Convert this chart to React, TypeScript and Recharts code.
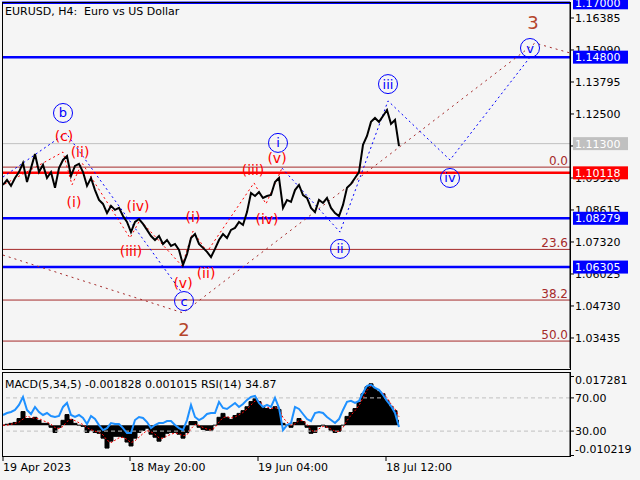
import React from "react";
import {
  ComposedChart,
  Line,
  Area,
  Scatter,
  XAxis,
  YAxis,
  ReferenceLine,
} from "recharts";

const FONT = "'DejaVu Sans', Verdana, sans-serif";
const BG = "#f5f5f5";

// EURUSD H4, one close every 4 bars
const closes = [
  1.0963, 1.0983, 1.0959, 1.0991, 1.1015, 1.1052, 1.0975, 1.1031, 1.1088, 1.1015,
  1.1044, 1.0991, 1.1015, 1.0951, 1.1031, 1.1064, 1.108, 1.0999, 1.104, 1.1048,
  1.1015, 1.0959, 1.0991, 1.0942, 1.0902, 1.0886, 1.0849, 1.0878, 1.0862, 1.087,
  1.0837, 1.0813, 1.0772, 1.0813, 1.0825, 1.0805, 1.0781, 1.0756, 1.074, 1.0756,
  1.0724, 1.074, 1.0716, 1.0724, 1.07, 1.0639, 1.0683, 1.0748, 1.0764, 1.0724,
  1.0708, 1.0692, 1.0671, 1.0704, 1.074, 1.0764, 1.0748, 1.0781, 1.0789, 1.0813,
  1.0801, 1.0853, 1.093, 1.0918, 1.0934, 1.091, 1.0918, 1.0922, 1.0975, 1.0991,
  1.087, 1.0902, 1.0894, 1.0942, 1.0963, 1.0922, 1.091, 1.087, 1.0853, 1.0902,
  1.089, 1.091, 1.087, 1.0849, 1.0837, 1.0882, 1.0951, 1.0967, 1.0991, 1.1015,
  1.1125, 1.1161, 1.1218, 1.1234, 1.1218, 1.1242, 1.1266, 1.121, 1.1226, 1.112,
];

const rsi14 = [
  49.4, 51.8, 53.0, 55.5, 61.5, 71.2, 55.5, 50.6, 59.1, 53.0,
  49.4, 51.8, 48.2, 47.0, 48.2, 59.1, 63.9, 49.4, 47.0, 49.4,
  45.8, 38.5, 48.2, 44.5, 37.3, 31.2, 33.6, 39.7, 38.5, 38.5,
  33.6, 27.6, 27.6, 43.3, 47.0, 45.8, 40.9, 33.6, 37.3, 39.7,
  39.7, 42.1, 42.1, 37.3, 33.6, 31.2, 43.3, 61.5, 47.0, 43.3,
  45.8, 50.6, 51.8, 51.8, 65.2, 57.9, 56.7, 60.3, 63.9, 59.1,
  62.7, 67.6, 71.2, 72.4, 63.9, 59.1, 61.5, 59.1, 70.0, 57.9,
  31.2, 37.3, 39.7, 59.1, 56.7, 50.6, 44.5, 42.1, 51.8, 53.0,
  51.8, 47.0, 43.3, 39.7, 44.5, 55.5, 65.2, 66.4, 63.9, 66.4,
  76.1, 84.5, 85.8, 82.1, 79.7, 73.6, 66.4, 60.3, 51.8, 34.9,
];

const macdMain = [
  0.0, 0.0003, 0.0006, 0.0009, 0.0022, 0.0045, 0.0022, 0.0022, 0.0026, 0.0016,
  0.0006, 0.0006, -0.0007, -0.0024, -0.0007, 0.0016, 0.0035, 0.0019, 0.0006, 0.0,
  -0.0004, -0.0024, -0.0017, -0.0024, -0.0027, -0.0043, -0.0076, -0.0053, -0.0037, -0.0037,
  -0.004, -0.0056, -0.0069, -0.0043, -0.0024, -0.0017, -0.001, -0.003, -0.004, -0.0053,
  -0.004, -0.0027, -0.0024, -0.0024, -0.003, -0.0043, -0.0024, 0.0012, 0.0012, -0.0007,
  -0.0014, -0.0017, -0.0017, 0.0, 0.0026, 0.0039, 0.0026, 0.0019, 0.0032, 0.0039,
  0.0048, 0.0061, 0.0078, 0.0088, 0.0078, 0.0058, 0.0055, 0.0052, 0.0061, 0.0052,
  0.0006, 0.0, -0.0007, 0.0009, 0.0022, 0.0012, -0.0007, -0.0027, -0.0024, -0.0004,
  0.0, -0.0007, -0.0017, -0.0024, -0.002, 0.0, 0.0029, 0.0042, 0.0055, 0.0075,
  0.0104, 0.0127, 0.0137, 0.0121, 0.0111, 0.0104, 0.0081, 0.0061, 0.0048, 0.0016,
];

const macdSignal = [
  0.0, 0.0, 0.0003, 0.0006, 0.001, 0.002, 0.003, 0.0025, 0.0023, 0.0022,
  0.0015, 0.001, 0.0003, -0.0008, -0.0012, -0.0004, 0.0012, 0.002, 0.0015, 0.0008,
  0.0002, -0.0008, -0.0015, -0.002, -0.0024, -0.0032, -0.005, -0.0058, -0.005, -0.0042,
  -0.004, -0.0047, -0.0058, -0.0052, -0.004, -0.0028, -0.0018, -0.0022, -0.003, -0.0042,
  -0.0044, -0.0036, -0.003, -0.0026, -0.0028, -0.0035, -0.0032, -0.0012, 0.0002, 0.0,
  -0.0008, -0.0013, -0.0016, -0.0008, 0.001, 0.0025, 0.0028, 0.0024, 0.0027, 0.0034,
  0.0042, 0.0053, 0.0067, 0.008, 0.008, 0.0068, 0.006, 0.0055, 0.0058, 0.0055,
  0.0025, 0.001, 0.0, 0.0004, 0.0015, 0.0015, 0.0003, -0.0017, -0.0022, -0.0012,
  -0.0004, -0.0006, -0.0013, -0.002, -0.0021, -0.0008, 0.0015, 0.0033, 0.0048, 0.0065,
  0.009, 0.0115, 0.013, 0.0125, 0.0115, 0.0107, 0.009, 0.007, 0.0054, 0.0028,
];

const priceTicks = [1.16385, 1.1509, 1.13795, 1.125, 1.11205, 1.0991, 1.08615, 1.0732, 1.06025, 1.0473, 1.03435];
const dateTickBars = [3, 130, 258, 386];
const dateTickLabels = ["19 Apr 2023", "18 May 20:00", "19 Jun 04:00", "18 Jul 12:00"];

const blueLevels = [1.17, 1.148, 1.08279, 1.06305];
const blueLevelText = ["1.17000", "1.14800", "1.08279", "1.06305"];
const redLevel = 1.10118;
const grayLevel = 1.113;
const fibLevels = [1.1035, 1.0702, 1.0497, 1.0331];
const fibText = ["0.0", "23.6", "38.2", "50.0"];

// wave count lines
const brownBars = [3, 183, 535, 570];
const brownPrices = [1.0679, 1.0445, 1.1537, 1.1497];
const blueBarsA = [3, 66, 182];
const bluePricesA = [1.0995, 1.1173, 1.0526];
const blueBarsB = [282, 340, 388, 450, 531];
const bluePricesB = [1.1031, 1.0772, 1.1303, 1.1064, 1.1485];
const redBarsA = [5, 63, 72, 82, 130, 140, 182];
const redPricesA = [1.0967, 1.1096, 1.0963, 1.1052, 1.0748, 1.0821, 1.0635];
const redBarsB = [182, 193, 207, 254, 266, 282];
const redPricesB = [1.0635, 1.0776, 1.0692, 1.0971, 1.0886, 1.1031];

// wave labels
const blueLabelText = ["b", "c", "i", "ii", "iii", "iv", "v"];
const blueLabelBars = [63, 184, 278, 340, 388, 450, 530];
const blueLabelPrices = [1.1254, 1.0493, 1.1133, 1.0704, 1.1371, 1.0991, 1.1517];
const redLabelText = ["(c)", "(ii)", "(i)", "(iv)", "(iii)", "(v)", "(i)", "(ii)", "(iii)", "(iv)", "(v)"];
const redLabelBars = [64, 80, 74, 138, 131, 183, 193, 206, 253, 267, 277];
const redLabelPrices = [1.1161, 1.1096, 1.0894, 1.0878, 1.0696, 1.0566, 1.0833, 1.0607, 1.1023, 1.0825, 1.1072];
const brownLabelText = ["3", "2"];
const brownLabelBars = [533, 184];
const brownLabelPrices = [1.1618, 1.0376];

const bars = closes.map((_, i) => 3 + i * 4);
const priceData = closes.map((p, i) => ({ x: bars[i], y: p }));
const oscData = bars.map((x, i) => ({ x, rsi: rsi14[i], macd: macdMain[i], sig: macdSignal[i] }));

const pts = (xs: number[], ys: number[]) => xs.map((x, i) => ({ x, y: ys[i] }));
const lbls = (xs: number[], ys: number[], ts: string[]) => xs.map((x, i) => ({ x, y: ys[i], t: ts[i] }));

const PRICE_DOMAIN: [number, number] = [1.0222, 1.17032];
const MAIN_MARGIN = { top: 2, right: 0, bottom: 2, left: 2 };

const tag = (text: string, bg: string) => (props: any) => {
  const vb = props.viewBox;
  const x = vb.x + vb.width + 3;
  return (
    <g>
      <rect x={x} y={vb.y - 6.5} width={55} height={13} fill={bg} />
      <text x={x + 2} y={vb.y + 4} fontSize={11} fill="#fff" fontFamily={FONT}>
        {text}
      </text>
    </g>
  );
};

const fibTag = (text: string) => (props: any) => {
  const vb = props.viewBox;
  return (
    <text x={vb.x + vb.width - 2} y={vb.y - 2} textAnchor="end" fontSize={12} fill="#a52a2a" fontFamily={FONT}>
      {text}
    </text>
  );
};

const CircleLabel = (props: any) => {
  const { cx, cy, payload } = props;
  return (
    <g>
      <circle cx={cx} cy={cy} r={9.5} fill="none" stroke="#0000ff" />
      <text x={cx} y={cy + 4.5} textAnchor="middle" fontSize={13} fill="#0000ff" fontFamily={FONT}>
        {payload.t}
      </text>
    </g>
  );
};

const RedLabel = (props: any) => {
  const { cx, cy, payload } = props;
  return (
    <text x={cx} y={cy + 5} textAnchor="middle" fontSize={14} fill="#ff0000" fontFamily={FONT}>
      {payload.t}
    </text>
  );
};

const BrownLabel = (props: any) => {
  const { cx, cy, payload } = props;
  return (
    <text x={cx} y={cy + 6} textAnchor="middle" fontSize={18} fill="#b5442a" fontFamily={FONT}>
      {payload.t}
    </text>
  );
};

const DateTick = (props: any) => {
  const { x, y, payload } = props;
  const i = dateTickBars.indexOf(payload.value);
  return (
    <text x={x} y={y + 8} textAnchor="start" fontSize={11} fill="#000" fontFamily={FONT}>
      {dateTickLabels[i]}
    </text>
  );
};

const axisTick = { fontSize: 11, fill: "#000", fontFamily: FONT };

const abs = (left: number, top: number, extra: React.CSSProperties = {}): React.CSSProperties => ({
  position: "absolute",
  left,
  top,
  ...extra,
});

export default function App() {
  return (
    <div style={{ position: "absolute", left: 0, top: 0, width: 640, height: 480, background: BG, overflow: "hidden", fontFamily: FONT }}>
      <div style={abs(0, 0)}>
        <ComposedChart width={640} height={370} margin={MAIN_MARGIN}>
          <XAxis type="number" dataKey="x" domain={[2, 570]} hide allowDataOverflow />
          <YAxis
            orientation="right"
            width={70}
            domain={PRICE_DOMAIN}
            ticks={priceTicks}
            tickFormatter={(v: number) => v.toFixed(5)}
            tick={axisTick}
            tickSize={4}
            tickMargin={1}
            axisLine={{ stroke: "#000" }}
            tickLine={{ stroke: "#000" }}
            allowDataOverflow
          />
          {fibLevels.map((v, i) => (
            <ReferenceLine key={"f" + i} y={v} stroke="#a52a2a" strokeWidth={1} label={fibTag(fibText[i])} />
          ))}
          <ReferenceLine y={grayLevel} stroke="#c0c0c0" strokeWidth={1} />
          <ReferenceLine y={redLevel} stroke="#ff0000" strokeWidth={2.5} />
          {blueLevels.map((v, i) => (
            <ReferenceLine key={"b" + i} y={v} stroke="#0000ff" strokeWidth={2.5} />
          ))}
          <Line data={pts(brownBars, brownPrices)} dataKey="y" stroke="#a52a2a" strokeDasharray="2 4" dot={false} isAnimationActive={false} />
          <Line data={pts(blueBarsA, bluePricesA)} dataKey="y" stroke="#0000ff" strokeDasharray="2 3" dot={false} isAnimationActive={false} />
          <Line data={pts(blueBarsB, bluePricesB)} dataKey="y" stroke="#0000ff" strokeDasharray="2 3" dot={false} isAnimationActive={false} />
          <Line data={pts(redBarsA, redPricesA)} dataKey="y" stroke="#ff0000" strokeDasharray="2 3" dot={false} isAnimationActive={false} />
          <Line data={pts(redBarsB, redPricesB)} dataKey="y" stroke="#ff0000" strokeDasharray="2 3" dot={false} isAnimationActive={false} />
          <Line data={priceData} dataKey="y" stroke="#000" strokeWidth={2} dot={false} isAnimationActive={false} />
          <Scatter data={lbls(blueLabelBars, blueLabelPrices, blueLabelText)} dataKey="y" shape={CircleLabel} isAnimationActive={false} />
          <Scatter data={lbls(redLabelBars, redLabelPrices, redLabelText)} dataKey="y" shape={RedLabel} isAnimationActive={false} />
          <Scatter data={lbls(brownLabelBars, brownLabelPrices, brownLabelText)} dataKey="y" shape={BrownLabel} isAnimationActive={false} />
        </ComposedChart>
      </div>

      {/* price tags on top of the axis labels */}
      <div style={abs(0, 0, { pointerEvents: "none" })}>
        <ComposedChart width={640} height={370} margin={MAIN_MARGIN}>
          <XAxis type="number" dataKey="x" domain={[2, 570]} hide allowDataOverflow />
          <YAxis orientation="right" width={70} domain={PRICE_DOMAIN} tick={false} tickLine={false} axisLine={false} allowDataOverflow />
          <Line data={priceData} dataKey="y" stroke="none" dot={false} isAnimationActive={false} />
          <ReferenceLine y={grayLevel} stroke="none" label={tag("1.11300", "#c0c0c0")} />
          <ReferenceLine y={redLevel} stroke="none" label={tag("1.10118", "#ff0000")} />
          {blueLevels.map((v, i) => (
            <ReferenceLine key={"t" + i} y={v} stroke="none" label={tag(blueLevelText[i], "#0000ff")} />
          ))}
        </ComposedChart>
      </div>

      <div style={abs(0, 370)}>
        <ComposedChart width={640} height={110} margin={{ top: 3, right: 0, bottom: 0, left: 2 }}>
          <XAxis
            type="number"
            dataKey="x"
            domain={[2, 570]}
            ticks={dateTickBars}
            interval={0}
            tick={DateTick}
            tickSize={5}
            axisLine={false}
            tickLine={{ stroke: "#000" }}
            height={24}
            allowDataOverflow
          />
          <YAxis
            yAxisId="rsi"
            orientation="right"
            width={70}
            domain={[0, 100]}
            ticks={[30, 70]}
            tickFormatter={(v: number) => v.toFixed(2)}
            tick={axisTick}
            tickSize={4}
            tickMargin={1}
            axisLine={{ stroke: "#000" }}
            tickLine={{ stroke: "#000" }}
            allowDataOverflow
          />
          <YAxis yAxisId="macd" hide domain={[-0.010219, 0.017281]} allowDataOverflow />
          <ReferenceLine yAxisId="rsi" y={70} stroke="#c0c0c0" strokeDasharray="4 3" />
          <ReferenceLine yAxisId="rsi" y={30} stroke="#c0c0c0" strokeDasharray="4 3" />
          <Area
            yAxisId="macd"
            data={oscData}
            dataKey="macd"
            type="step"
            baseValue={0}
            stroke="#000"
            fill="#000"
            fillOpacity={1}
            isAnimationActive={false}
          />
          <Line yAxisId="macd" data={oscData} dataKey="sig" stroke="#ff0000" strokeDasharray="2 2" dot={false} isAnimationActive={false} />
          <Line yAxisId="rsi" data={oscData} dataKey="rsi" stroke="#1e90ff" strokeWidth={2} dot={false} isAnimationActive={false} />
        </ComposedChart>
      </div>

      <div style={abs(2, 2, { width: 569, height: 368, border: "1px solid #000", boxSizing: "border-box", pointerEvents: "none" })} />
      <div style={abs(2, 372, { width: 569, height: 85, border: "1px solid #000", boxSizing: "border-box", pointerEvents: "none" })} />

      <div style={abs(5, 5, { fontSize: 11, lineHeight: "13px", whiteSpace: "pre" })}>EURUSD, H4:  Euro vs US Dollar</div>
      <div style={abs(5, 378, { fontSize: 11, lineHeight: "13px", whiteSpace: "pre" })}>
        MACD(5,34,5) -0.001828 0.001015 RSI(14) 34.87
      </div>
      <div style={abs(575, 374, { fontSize: 11, lineHeight: "13px" })}>0.017281</div>
      <div style={abs(575, 443, { fontSize: 11, lineHeight: "13px" })}>-0.010219</div>
      <div style={abs(570, 376, { width: 4, height: 1, background: "#000" })} />
      <div style={abs(570, 455, { width: 4, height: 1, background: "#000" })} />
    </div>
  );
}
